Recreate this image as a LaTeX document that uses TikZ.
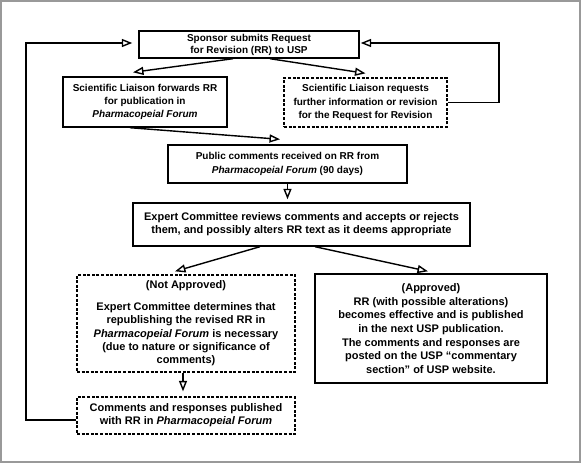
\documentclass[tikz,border=0pt]{standalone}
\usepackage{fontspec}
\setmainfont{Liberation Sans}
\usetikzlibrary{arrows.meta,calc}

\begin{document}
\begin{tikzpicture}[
  x=1pt,y=-1pt,
  box/.style={draw,line width=1.4pt,align=center,inner sep=2pt,
    font=\bfseries\fontsize{10}{13.3}\selectfont},
  dbox/.style={box,line width=1.3pt,dash pattern=on 3pt off 1.6pt},
  big/.style={font=\bfseries\fontsize{11}{13.3}\selectfont},
  flow/.style={line width=1.4pt,-{Triangle[open,length=10.5pt,width=8pt]}},
  frame/.style={draw=gray!80,line width=1.6pt}
]
\useasboundingbox (0,0) rectangle (581,463);
\draw[frame] (1,1) rectangle (580,462);

% ---------------- request ----------------
\node[box,minimum width=220pt,minimum height=27pt,
  font=\bfseries\fontsize{10}{12}\selectfont] (spons) at (249,44.5)
  {Sponsor submits Request\\for Revision (RR) to USP};
\node[box,minimum width=164pt,minimum height=50pt] (fwd) at (145,102)
  {Scientific Liaison forwards RR\\for publication in\\\textit{Pharmacopeial Forum}};
\node[dbox,minimum width=163pt,minimum height=49pt] (req) at (365.5,102.5)
  {Scientific Liaison requests\\further information or revision\\for the Request for Revision};

% ---------------- comments ----------------
\node[box,minimum width=239pt,minimum height=38pt] (pub) at (287.5,164)
  {Public comments received on RR from\\\textit{Pharmacopeial Forum} (90 days)};
\node[box,big,minimum width=337pt,minimum height=43pt] (exp) at (301.5,224.5)
  {Expert Committee reviews comments and accepts or rejects\\them, and possibly alters RR text as it deems appropriate};

% ---------------- decision ----------------
\node[dbox,big,minimum width=218pt,minimum height=97pt] (notap) at (186,323.5)
  {(Not Approved)\\[8.5pt]Expert Committee determines that\\republishing the revised RR in\\
   \textit{Pharmacopeial Forum} is necessary\\(due to nature or significance of\\comments)};
\node[box,minimum width=232pt,minimum height=109pt,font=\bfseries\fontsize{11}{13.7}\selectfont] (apr) at (431,328.5)
  {(Approved)\\RR (with possible alterations)\\becomes effective and is published\\in the next USP publication.\\
   The comments and responses are\\posted on the USP ``commentary\\section'' of USP website.};
\node[dbox,big,minimum width=218pt,minimum height=37pt] (cmt) at (186,415.5)
  {Comments and responses published\\with RR in \textit{Pharmacopeial Forum}};

% loop corners
\coordinate (lft) at (26,43);
\coordinate (rgt) at (499,43);

% ---------------- arrows ----------------
\draw[flow] ([xshift=-16pt]spons.south) -- ([xshift=-12pt,yshift=4pt]fwd.north);
\draw[flow] ([xshift=21pt]spons.south) -- ([yshift=4pt]req.north);
\draw[flow] ([xshift=-15pt]fwd.south) -- ([xshift=-7.5pt,yshift=5pt]pub.north);
\draw[flow,shorten >=3pt] (pub.south) -- (pub.south |- exp.north);
\draw[flow] ([xshift=-41.5pt]exp.south) -- ([xshift=-11pt,yshift=3pt]notap.north);
\draw[flow] ([xshift=13.5pt]exp.south) -- ([xshift=-3pt,yshift=2pt]apr.north);
\draw[flow,shorten >=5pt] ([xshift=-3pt]notap.south) -- ([xshift=-3pt]cmt.north);

% feedback loops
\draw[flow,shorten >=6pt] ([yshift=-4.5pt]cmt.west) -| (lft) -- ([yshift=1.5pt]spons.west);
\draw[flow,shorten >=1pt] (req.east) -| (rgt) -- ([yshift=1.5pt]spons.east);

\end{tikzpicture}
\end{document}
